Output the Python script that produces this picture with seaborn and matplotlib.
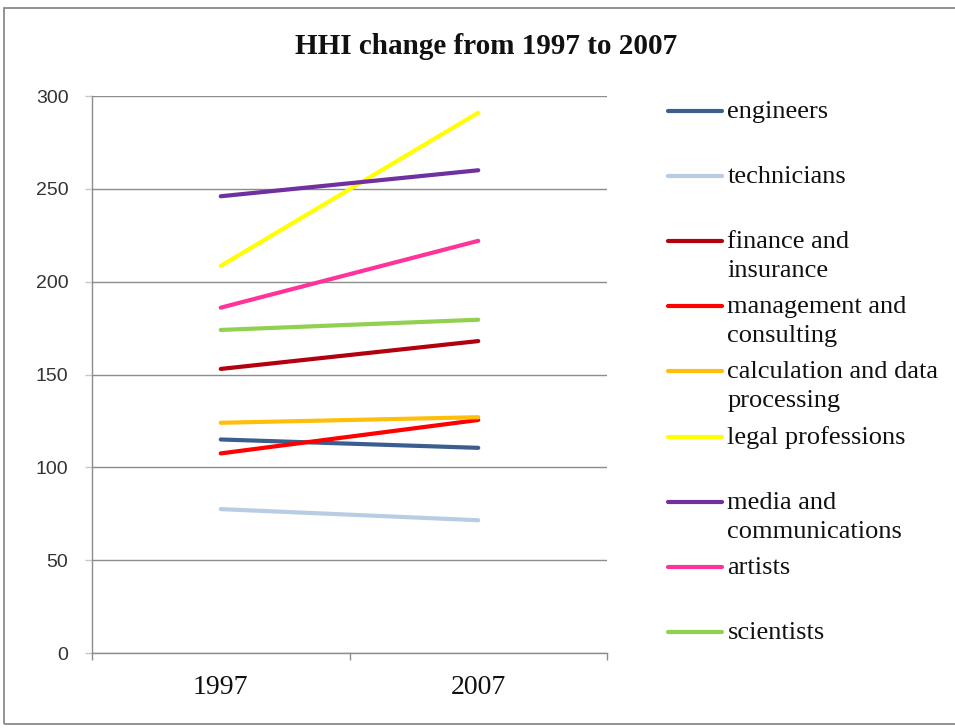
import matplotlib
matplotlib.use("Agg")
import matplotlib.pyplot as plt
import seaborn as sns
import pandas as pd
import numpy as np
from matplotlib.legend_handler import HandlerLine2D
from matplotlib.lines import Line2D
from matplotlib.patches import Rectangle
from matplotlib.ticker import FixedLocator

# ---------------- data ----------------
years = ["1997", "2007"]
occupations = ["engineers", "technicians", "finance and insurance",
               "management and consulting", "calculation and data processing",
               "legal professions", "media and communications", "artists",
               "scientists"]
legend_labels = ["engineers", "technicians", "finance and\ninsurance",
                 "management and\nconsulting", "calculation and data\nprocessing",
                 "legal professions", "media and\ncommunications", "artists",
                 "scientists"]
hhi_1997 = [115, 77.5, 153, 107.5, 124, 208.5, 246, 186, 174]
hhi_2007 = [110.5, 71.5, 168, 125.5, 127, 291, 260, 222, 179.5]
line_colors = ["#3A5F8E", "#B8CCE4", "#B3000F", "#FF0000", "#FFBE0A",
               "#FFFF00", "#7030A0", "#FF3399", "#92D050"]
y_ticks = [0, 50, 100, 150, 200, 250, 300]
title_text = "HHI change from 1997 to 2007"

rows = []
for occ, v0, v1 in zip(occupations, hhi_1997, hhi_2007):
    rows.append({"year": years[0], "HHI": v0, "occupation": occ})
    rows.append({"year": years[1], "HHI": v1, "occupation": occ})
df = pd.DataFrame(rows)
palette = dict(zip(occupations, line_colors))

# ---------------- figure ----------------
sns.set_style("white")
plt.rcParams["font.family"] = ["Liberation Serif", "DejaVu Serif"]

W, H = 955, 728
fig = plt.figure(figsize=(W / 100, H / 100), dpi=100)
ax = fig.add_axes([92 / W, 1 - 653 / H, (607 - 92) / W, (653 - 96) / H])

sns.lineplot(data=df, x="year", y="HHI", hue="occupation",
             hue_order=occupations, palette=palette, linewidth=3.0,
             legend=False, ax=ax, sort=False)
for ln in ax.lines:
    ln.set_solid_capstyle("round")

grid_c = "#8C8C8C"
ax.set_xlim(-0.5, 1.5)
ax.set_ylim(0, 300)
ax.set_xlabel("")
ax.set_ylabel("")
ax.set_yticks(y_ticks)
ax.set_yticklabels([str(t) for t in y_ticks], family="Liberation Sans",
                   fontsize=14, color="#333333")
ax.set_xticks([0, 1])
ax.set_xticklabels(years, fontsize=20, color="#111111")
ax.xaxis.set_minor_locator(FixedLocator([-0.5, 0.5, 1.5]))
ax.tick_params(axis="x", which="major", length=0, pad=16)
ax.tick_params(axis="x", which="minor", length=5, width=1, color=grid_c,
               direction="out", bottom=True)
ax.tick_params(axis="y", which="major", length=5, width=1, color="#C8C8C8",
               direction="out", left=True, pad=12)
ax.grid(axis="y", color=grid_c, linewidth=1)
ax.set_axisbelow(True)
for s in ["top", "right"]:
    ax.spines[s].set_visible(False)
for s in ["left", "bottom"]:
    ax.spines[s].set_color(grid_c)
    ax.spines[s].set_linewidth(1)

# title
fig.text(486 / W, 1 - 47 / H, title_text, ha="center", va="center",
         fontsize=21, fontweight="bold", color="#111111")

# legend: handle aligned with the first line of each entry
LEG_FS = 19


class TopLine(HandlerLine2D):
    def create_artists(self, legend, orig_handle, xdescent, ydescent,
                       width, height, fontsize, trans):
        arts = super().create_artists(legend, orig_handle, xdescent, ydescent,
                                      width, height, fontsize, trans)
        for a in arts:
            if isinstance(a, Line2D):
                a.set_ydata(np.asarray(a.get_ydata(), dtype=float)
                            + 0.57 * fontsize)
        return arts


handles = [Line2D([], [], color=c, linewidth=3.0) for c in line_colors]
labels2 = [lab if "\n" in lab else lab + "\n" for lab in legend_labels]
leg = fig.legend(handles, labels2, loc="upper left",
                 bbox_to_anchor=(668 / W, 1 - 101 / H), frameon=False,
                 fontsize=LEG_FS, handlelength=2.05, handletextpad=0.2,
                 labelspacing=0.52, borderpad=0, borderaxespad=0,
                 handler_map={Line2D: TopLine()})
for t in leg.get_texts():
    t.set_linespacing(1.43)
    t.set_color("#111111")

# chart frame
fig.patches.append(Rectangle((4 / W, 1 - 724 / H), 1.2, (724 - 8) / H,
                             transform=fig.transFigure, fill=False,
                             edgecolor="#8A8A8A", linewidth=1.3))

fig.savefig("out.png", dpi=100)
